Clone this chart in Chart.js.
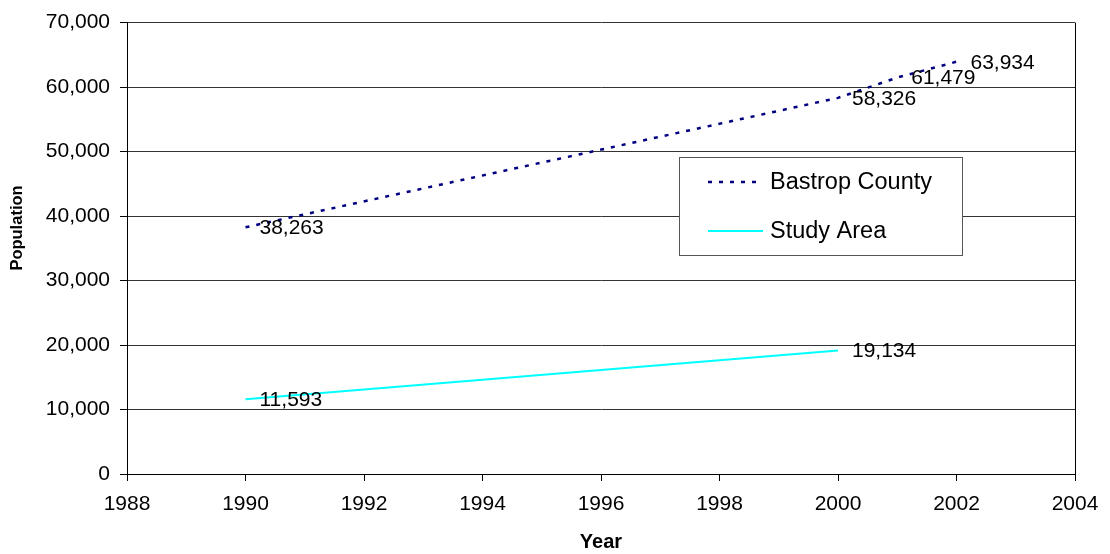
<!DOCTYPE html>
<html>
<head>
<meta charset="utf-8">
<script src="https://cdn.jsdelivr.net/npm/chart.js@4/dist/chart.umd.min.js"></script>
<style>
  html, body { margin: 0; padding: 0; background: #fff; }
  #wrap { width: 1110px; height: 554px; position: relative; }
</style>
</head>
<body>
<div id="wrap"><canvas id="chart" width="1110" height="554"></canvas></div>
<script>
// values
var bastropYears = [1990, 2000, 2001, 2002];
var bastropValues = [38263, 58326, 61479, 63934];
var studyYears = [1990, 2000];
var studyValues = [11593, 19134];
var seriesNames = ['Bastrop County', 'Study Area'];
var xTicks = [1988, 1990, 1992, 1994, 1996, 1998, 2000, 2002, 2004];
var yTicks = [0, 10000, 20000, 30000, 40000, 50000, 60000, 70000];

var FONT = '"Liberation Sans", Arial, sans-serif';

function toPoints(xs, ys) {
  var out = [];
  for (var i = 0; i < xs.length; i++) {
    out.push({ x: xs[i], y: ys[i] });
  }
  return out;
}

function fmt(v) {
  return Number(v).toLocaleString('en-US');
}

// value labels, right of each point
var pointLabels = {
  id: 'pointLabels',
  afterDatasetsDraw: function (chart) {
    var ctx = chart.ctx;
    ctx.save();
    ctx.font = '21px ' + FONT;
    ctx.fillStyle = '#000';
    ctx.textAlign = 'left';
    ctx.textBaseline = 'middle';
    chart.data.datasets.forEach(function (ds, i) {
      var meta = chart.getDatasetMeta(i);
      meta.data.forEach(function (pt, j) {
        ctx.fillText(fmt(ds.data[j].y), pt.x + 14, pt.y + 1);
      });
    });
    ctx.restore();
  }
};

// y title sits a bit above the middle of the plot in the original
var yTitle = {
  id: 'yTitle',
  afterDraw: function (chart) {
    var ctx = chart.ctx;
    ctx.save();
    ctx.translate(17, 228);
    ctx.rotate(-Math.PI / 2);
    ctx.font = 'bold 16.5px ' + FONT;
    ctx.fillStyle = '#000';
    ctx.textAlign = 'center';
    ctx.textBaseline = 'middle';
    ctx.fillText('Population', 0, 0);
    ctx.restore();
  }
};

// boxed legend inside the plot
var boxLegend = {
  id: 'boxLegend',
  afterDraw: function (chart) {
    var ctx = chart.ctx;
    var left = 679, top = 157, w = 283, h = 98;
    ctx.save();
    ctx.fillStyle = '#fff';
    ctx.fillRect(left, top, w, h);
    ctx.strokeStyle = '#555';
    ctx.lineWidth = 1;
    ctx.strokeRect(left + 0.5, top + 0.5, w, h);
    ctx.font = '23.5px ' + FONT;
    ctx.textBaseline = 'middle';
    ctx.textAlign = 'left';
    chart.data.datasets.forEach(function (ds, i) {
      var y = top + 25 + i * 49;
      ctx.beginPath();
      ctx.setLineDash(ds.borderDash || []);
      ctx.strokeStyle = ds.borderColor;
      ctx.lineWidth = ds.borderWidth;
      ctx.moveTo(left + 29, y);
      ctx.lineTo(left + 84, y);
      ctx.stroke();
      ctx.setLineDash([]);
      ctx.fillStyle = '#000';
      ctx.fillText(ds.label, left + 91, y + 1);
    });
    ctx.restore();
  }
};

new Chart(document.getElementById('chart'), {
  type: 'line',
  data: {
    datasets: [
      {
        label: seriesNames[0],
        data: toPoints(bastropYears, bastropValues),
        borderColor: '#000080',
        borderWidth: 2.5,
        borderDash: [4, 7],
        pointRadius: 0,
        tension: 0,
        fill: false
      },
      {
        label: seriesNames[1],
        data: toPoints(studyYears, studyValues),
        borderColor: '#00FFFF',
        borderWidth: 2,
        pointRadius: 0,
        tension: 0,
        fill: false
      }
    ]
  },
  options: {
    responsive: false,
    animation: false,
    maintainAspectRatio: false,
    devicePixelRatio: 1,
    layout: { padding: { top: 20, right: 35, left: 0, bottom: 0 } },
    plugins: {
      legend: { display: false },
      tooltip: { enabled: false }
    },
    scales: {
      x: {
        type: 'linear',
        min: xTicks[0],
        max: xTicks[xTicks.length - 1],
        afterBuildTicks: function (scale) {
          scale.ticks = xTicks.map(function (v) { return { value: v }; });
        },
        afterFit: function (scale) { scale.height = 80; },
        border: { color: '#000', width: 1 },
        grid: {
          color: function (c) {
            return c.tick && c.tick.value === xTicks[xTicks.length - 1] ? '#000' : 'rgba(0,0,0,0)';
          },
          tickColor: '#000',
          tickLength: 7
        },
        ticks: {
          color: '#000',
          font: { family: FONT, size: 21 },
          padding: 11,
          maxRotation: 0,
          autoSkip: false,
          callback: function (v) { return String(v); }
        },
        title: {
          display: true,
          text: 'Year',
          color: '#000',
          font: { family: FONT, size: 20, weight: 'bold' },
          padding: { top: 0, bottom: 0 }
        }
      },
      y: {
        min: yTicks[0],
        max: yTicks[yTicks.length - 1],
        afterBuildTicks: function (scale) {
          scale.ticks = yTicks.map(function (v) { return { value: v }; });
        },
        afterFit: function (scale) { scale.width = 127; },
        border: { color: '#000', width: 1 },
        grid: {
          color: '#333',
          tickColor: '#000',
          tickLength: 7
        },
        ticks: {
          color: '#000',
          font: { family: FONT, size: 21 },
          padding: 10,
          autoSkip: false,
          callback: function (v) { return fmt(v); }
        },
        title: { display: false }
      }
    }
  },
  plugins: [pointLabels, yTitle, boxLegend]
});
</script>
</body>
</html>
